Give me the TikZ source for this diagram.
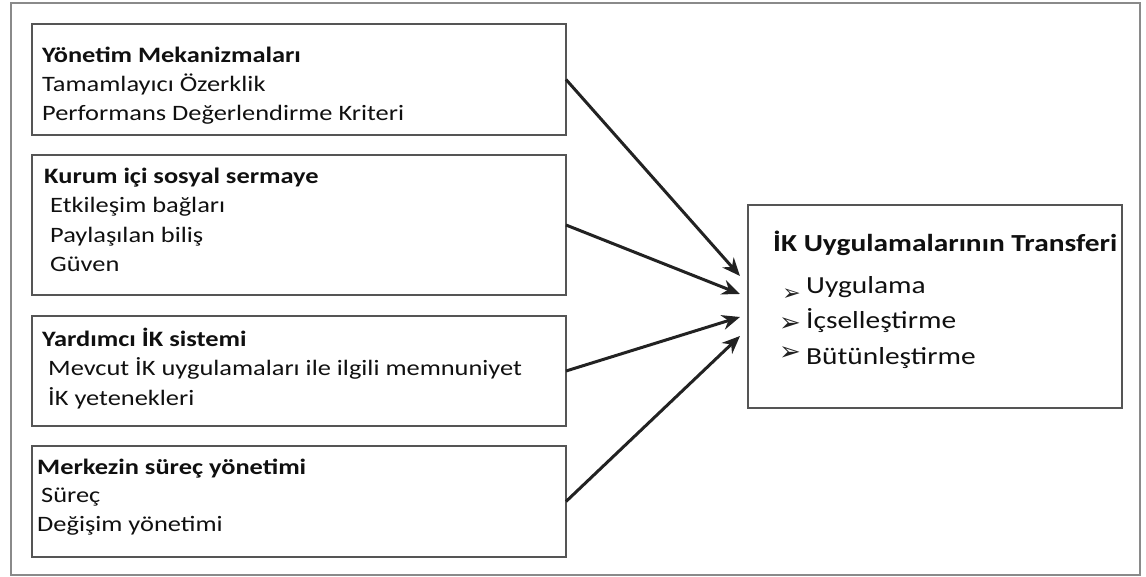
\documentclass[tikz,border=0pt]{standalone}
\usepackage{fontspec}
\setmainfont{Carlito}[FakeStretch=1.2]
\newfontfamily\symfont{DejaVu Sans}
\usetikzlibrary{arrows.meta}
\definecolor{boxline}{HTML}{555555}
\definecolor{frameline}{HTML}{8A8A8A}
\definecolor{arrowc}{HTML}{222222}
\definecolor{txt}{HTML}{101010}
\tikzset{
  box/.style={draw=boxline, line width=2pt, anchor=north west, inner sep=0pt, outer sep=0pt, minimum width=534pt},
  lt/.style={anchor=base west, inner sep=0pt, text=txt, font=\fontsize{22}{29}\selectfont},
  lh/.style={lt, font=\fontsize{22}{29}\selectfont\bfseries},
  rt/.style={anchor=base west, inner sep=0pt, text=txt, font=\fontsize{24.5}{35}\selectfont},
  rh/.style={rt, font=\fontsize{24.5}{35}\selectfont\bfseries},
  bul/.style={anchor=base east, inner sep=0pt, text=arrowc, font=\symfont\fontsize{26}{26}\selectfont},
  conn/.style={draw=arrowc, line width=3pt, -{Stealth[length=18pt,width=15pt]}}
}
\begin{document}
\begin{tikzpicture}[x=1pt,y=-1pt]
\useasboundingbox (0,0) rectangle (1146,577);
\draw[frameline, line width=2pt] (11,3) rectangle (1140,575);

\node[box, minimum height=111pt] (b1) at (32,24) {};
\node[box, minimum height=140pt] (b2) at (32,155) {};
\node[box, minimum height=110pt] (b3) at (32,316) {};
\node[box, minimum height=111pt] (b4) at (32,446) {};
\node[box, minimum width=374pt, minimum height=203pt] (rb) at (748,205) {};

% box 1
\node[lh] (t11) at (42,63) {Yönetim Mekanizmaları};
\node[lt] (t12) at (42,92) {Tamamlayıcı Özerklik};
\node[lt] (t13) at (42,121) {Performans Değerlendirme Kriteri};
% box 2
\node[lh] (t21) at (44,184) {Kurum içi sosyal sermaye};
\node[lt] (t22) at (50,213) {Etkileşim bağları};
\node[lt] (t23) at (50,243) {Paylaşılan biliş};
\node[lt] (t24) at (50,272) {Güven};
% box 3
\node[lh] (t31) at (42,346) {Yardımcı İK sistemi};
\node[lt] (t32) at (48,375) {Mevcut İK uygulamaları ile ilgili memnuniyet};
\node[lt] (t33) at (48,405) {İK yetenekleri};
% box 4
\node[lh] (t41) at (37,474) {Merkezin süreç yönetimi};
\node[lt] (t42) at (41,502) {Süreç};
\node[lt] (t43) at (37,531) {Değişim yönetimi};
% right box
\node[rh] (r1) at (773,252) {İK Uygulamalarının Transferi};
\node[bul, font=\symfont\fontsize{22}{22}\selectfont] (s1) at (801,301) {➢};
\node[rt] (r2) at (806,294) {Uygulama};
\node[bul] (s2) at (801,331) {➢};
\node[rt] (r3) at (806,329) {İçselleştirme};
\node[bul] (s3) at (801,360) {➢};
\node[rt] (r4) at (806,364) {Bütünleştirme};

\coordinate (e1) at (740,276);
\coordinate (e2) at (740,294);
\coordinate (e3) at (740,317);
\coordinate (e4) at (740,336);
\draw[conn] (b1.east) -- (e1);
\draw[conn] (b2.east) -- (e2);
\draw[conn] (b3.east) -- (e3);
\draw[conn] (b4.east) -- (e4);
\end{tikzpicture}
\end{document}
